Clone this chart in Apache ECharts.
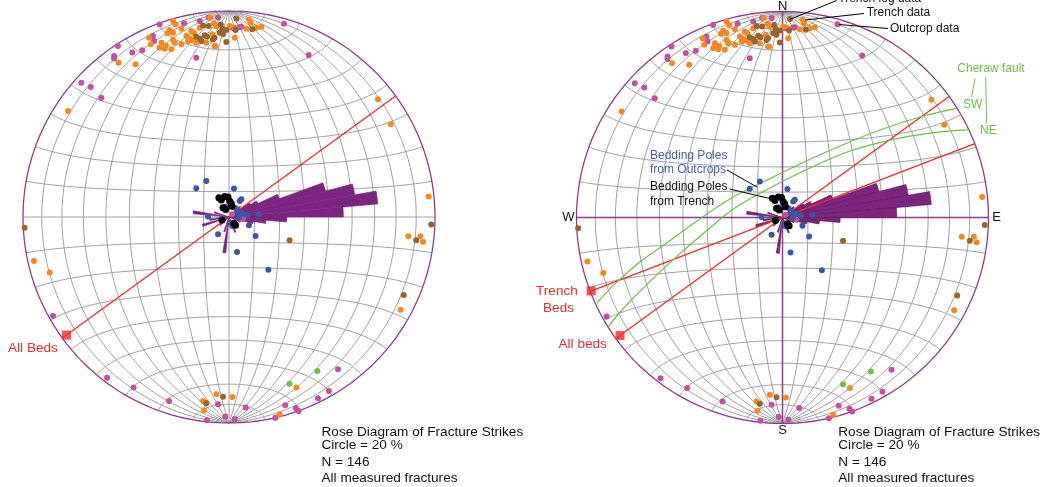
<!DOCTYPE html>
<html>
<head>
<meta charset="utf-8">
<script src="https://cdn.jsdelivr.net/npm/echarts@6/dist/echarts.min.js"></script>
<style>
  html, body { margin: 0; padding: 0; background: #fff; }
  #chart { width: 1046px; height: 487px; }
</style>
</head>
<body>
<div id="chart"></div>
<script>
// Lower-hemisphere equal-area (Schmidt) nets; positions in units of the net radius (100).

// Fracture poles
const outcropData = [
  [-14.2,95.1],[-9.9,96.8],[-5.3,96.8],[-21.8,94.0],[-33.7,93.5],[6.0,92.4],[1.6,91.9],[5.2,92.2],
  [-36.9,87.9],[-36.4,85.4],[-53.9,83.0],[-55.8,78.1],[-55.8,76.9],[-46.9,79.8],[-42.1,80.9],[-15.9,77.3],
  [26.7,93.8],[38.7,78.6],[-71.7,65.2],[-67.1,63.1],[-62.0,57.9],[-85.4,-48.1],[-59.2,-78.0],[-46.3,-82.8],
  [-29.1,-89.3],[-5.3,-90.9],[8.1,-92.5],[-1.8,-96.9],[-10.7,-98.7],[2.8,-98.2],[52.9,-73.9],[48.5,-84.5],
  [43.2,-88.0],[27.3,-91.4],[32.5,-92.9],[33.8,-94.2],[22.5,-97.4],[1.5,1.3],[6.8,-1.1]
];
const trenchData = [
  [-27.2,95.1],[-25.9,93.5],[-28.8,90.8],[-27.2,89.5],[-23.1,91.4],[-29.9,89.2],[-18.3,90.3],[-17.0,89.2],
  [-20.7,87.9],[-19.1,86.7],[-17.5,85.8],[-38.8,87.0],[-38.0,83.8],[-32.8,84.6],[-30.7,83.3],[-27.2,86.2],
  [-26.4,84.6],[-23.1,83.8],[-19.9,85.4],[-15.9,84.6],[-11.0,84.6],[-7.0,83.0],[-33.7,82.2],[-31.2,81.7],
  [-28.0,81.4],[-9.1,96.8],[-7.3,94.0],[-8.1,88.7],[0.3,92.7],[2.8,91.9],[2.8,87.0],[8.4,91.4],
  [9.7,95.9],[10.5,94.3],[13.3,91.9],[15.7,92.4],[-14.2,91.9],[-6.1,92.7],[-6.5,83.0],
  [-53.6,74.9],[-45.3,74.1],[-78.1,51.5],[-94.7,-21.4],[-87.0,-27.0],[72.3,57.1],[78.5,45.0],[96.9,10.0],
  [87.0,-9.4],[92.9,-9.4],[94.2,-12.0],[83.3,-45.0],[-6.1,-86.1],[1.6,-87.4],[-12.6,-89.3],[-12.1,-93.8],
  [32.7,-82.8],[24.6,-95.8]
];
const trenchLogData = [
  [3.6,96.3],[-12.6,93.0],[-9.9,92.7],[-4.0,93.5],[-3.2,91.4],[-1.3,90.8],[3.2,90.8],[11.3,91.1],
  [-15.9,87.5],[-14.2,86.6],[-11.8,88.2],[-10.7,87.5],[-7.0,87.0],[-4.5,89.5],[-2.9,88.7],[-13.4,85.4],
  [-7.8,86.2],[-1.3,84.9],[29.4,-11.3],[98.2,-3.6],[90.9,-11.3],[84.8,-37.9],[-99.2,-5.2],[-2.9,-87.2],
  [-11.0,-90.4]
];
const otherFractures = [[42.9,-74.8],[29.4,-80.9]];

// Bedding poles
const outcropBedding = [
  [-11.0,17.5],[-15.9,13.9],[2.4,13.8],[5.2,7.8],[6.0,8.6],[-1.8,5.0],[4.0,2.9],[8.9,0.8],[14.6,1.3],
  [-10.2,0.2],[9.7,-4.0],[12.9,-9.2],[-5.3,-8.4],[3.9,-17.0],[0.3,-2.8],[1.6,-4.4],[4.9,-0.3],
  [19.1,-25.6],[3.0,4.5],[6.5,1.8]
];
const trenchBedding = [
  [-4.9,9.4],[-3.7,8.3],[-2.1,9.9],[-0.5,9.7],[0.3,7.8],[1.1,6.6],[1.3,5.2],[-2.9,4.5],[-1.6,3.7],
  [-3.4,-1.5],[3.2,-4.0],[2.4,-3.0]
];

// Rose diagram of fracture strikes: 5 degree bins, percent of fractures (primitive = 20 %)
const roseBinStart = [45, 55, 60, 65, 70, 75, 80, 85, 90, 95, 100, 110, 155, 185, 195, 225, 250, 260, 275, 285];
const rosePercent  = [1.5, 2.4, 3.1, 5.2, 9.7, 12.4, 14.5, 11.1, 5.6, 3.6, 2.4, 1.2, 1.6, 3.5, 1.5, 1.2, 2.7, 1.9, 3.5, 1.5];
const roseBinWidth = 5;
const roseCirclePercent = 20;

// Mean bedding: strike (deg) and position of the marker along the SW end
const bedNames  = ['All beds', 'Trench Beds'];
const bedStrike = [54, 69];
const bedMarkR  = [97.5, 99.5];

// Cheraw fault traces
const cherawSW = [[-90.2,-41.7],[-82.8,-33.7],[-71.6,-23.5],[-57.0,-12.9],[-41.5,-1.7],[-25.5,9.0],
  [-8.5,17.7],[8.5,26.0],[27.9,34.7],[47.3,42.5],[66.7,48.8],[84.6,53.0]];
const cherawNE = [[-84.6,-53.0],[-77.9,-44.9],[-66.7,-33.3],[-52.2,-19.7],[-37.6,-7.0],[-23.1,4.6],
  [-6.1,14.3],[13.3,24.0],[32.8,32.3],[52.2,37.6],[71.6,41.0],[90.7,42.5]];

const R = 100;
const rad = d => d * Math.PI / 180;
// equal-area projection of a unit vector (east, north, down)
function proj(e, n, z) { const s = Math.sqrt(1 + z); return [R * e / s, R * n / s]; }

function netLines() {
  const out = [];
  for (let d = 10; d <= 80; d += 10) {
    for (const side of [-1, 1]) {
      const pts = [];
      for (let t = 0; t <= 180; t += 3) {
        const st = Math.sin(rad(t));
        pts.push(proj(side * st * Math.cos(rad(d)), Math.cos(rad(t)), st * Math.sin(rad(d))));
      }
      out.push(pts);
    }
  }
  for (let lat = -80; lat <= 80; lat += 10) {
    if (lat === 0) continue;
    const pts = [];
    const c = Math.cos(rad(lat)), s = Math.sin(rad(lat));
    for (let t = 0; t <= 180; t += 3) pts.push(proj(c * Math.cos(rad(t)), s, c * Math.sin(rad(t))));
    out.push(pts);
  }
  return out;
}
function circlePts() {
  const pts = [];
  for (let a = 0; a <= 360; a += 2) pts.push([R * Math.sin(rad(a)), R * Math.cos(rad(a))]);
  return pts;
}

const GRID_COLOR = '#a2a2a2';
const PURPLE = '#8d3b90';
const ROSE = '#7b2480';
const RED = '#ee2a2e';
const GREEN = '#6cc04a';
const FONT = '"Liberation Sans", Arial, Helvetica, sans-serif';

const roseData = roseBinStart.map((a, i) => [a, a + roseBinWidth, rosePercent[i]]);

function chartSeries(gi, opts) {
  const ax = { xAxisIndex: gi, yAxisIndex: gi };
  const s = [];
  s.push(Object.assign({
    type: 'lines', coordinateSystem: 'cartesian2d', polyline: true, silent: true, z: 1,
    lineStyle: { color: GRID_COLOR, width: 1, opacity: 1 },
    data: netLines().map(c => ({ coords: c }))
  }, ax));
  s.push(Object.assign({
    type: 'lines', coordinateSystem: 'cartesian2d', polyline: true, silent: true, z: 2,
    lineStyle: { color: opts.axisColor, width: opts.axisWidth, opacity: 1 },
    data: [{ coords: [[0, -R], [0, R]] }, { coords: [[-R, 0], [R, 0]] }]
  }, ax));
  s.push(Object.assign({
    type: 'lines', coordinateSystem: 'cartesian2d', polyline: true, silent: true, z: 2,
    lineStyle: { color: PURPLE, width: 1.3, opacity: 1 },
    data: [{ coords: circlePts() }]
  }, ax));
  s.push(Object.assign({
    type: 'custom', z: 3, silent: true, clip: false,
    data: roseData,
    encode: { x: [], y: [] },
    renderItem: function (params, api) {
      const a0 = api.value(0), a1 = api.value(1);
      const r = api.value(2) / roseCirclePercent * R;
      const pts = [api.coord([0, 0])];
      for (let k = 0; k <= 6; k++) {
        const a = rad(a0 + (a1 - a0) * k / 6);
        pts.push(api.coord([r * Math.sin(a), r * Math.cos(a)]));
      }
      return { type: 'polygon', shape: { points: pts },
        style: { fill: ROSE, stroke: opts.roseStroke, lineWidth: 0.6 } };
    }
  }, ax));
  opts.beds.forEach(bi => {
    const a = rad(bedStrike[bi]);
    s.push(Object.assign({
      type: 'line', z: 4, silent: true, symbol: 'none',
      lineStyle: { color: RED, width: 1.3 },
      data: [[-R * Math.sin(a), -R * Math.cos(a)], [R * Math.sin(a), R * Math.cos(a)]]
    }, ax));
    s.push(Object.assign({
      type: 'scatter', z: 6, silent: true, symbol: 'rect', symbolSize: 9,
      itemStyle: { color: RED },
      data: [[-bedMarkR[bi] * Math.sin(a), -bedMarkR[bi] * Math.cos(a)]]
    }, ax));
  });
  if (opts.fault) {
    [cherawSW, cherawNE].forEach(c => {
      s.push(Object.assign({
        type: 'line', z: 4, silent: true, symbol: 'none', smooth: 0.4,
        lineStyle: { color: GREEN, width: 1.2 }, data: c
      }, ax));
    });
  }
  const pts = [
    [outcropData, '#c2519f', 6], [trenchData, '#f5891f', 6], [trenchLogData, '#9a6429', 6],
    [otherFractures, '#6cc04a', 6], [outcropBedding, '#3c55a5', 6], [trenchBedding, '#000000', 7]
  ];
  pts.forEach(p => {
    s.push(Object.assign({
      type: 'scatter', z: 5, silent: true, symbolSize: p[2],
      itemStyle: { color: p[1], opacity: 1 }, data: p[0]
    }, ax));
  });
  return s;
}

const axisBase = { type: 'value', min: -R, max: R, show: false };
const txt = (text, x, y, fill, size, align) => ({
  type: 'text', x: x, y: y, z: 100, silent: true,
  style: { text: text, fill: fill, font: size + 'px ' + FONT, align: align || 'left', verticalAlign: 'middle' }
});
const seg = (x1, y1, x2, y2, color) => ({
  type: 'line', z: 100, silent: true,
  shape: { x1: x1, y1: y1, x2: x2, y2: y2 }, style: { stroke: color || '#000', lineWidth: 1 }
});

const option = {
  animation: false,
  backgroundColor: '#fff',
  grid: [
    { left: 23, top: 11, width: 412, height: 412 },
    { left: 576.5, top: 11.5, width: 412, height: 412 }
  ],
  xAxis: [Object.assign({ gridIndex: 0 }, axisBase), Object.assign({ gridIndex: 1 }, axisBase)],
  yAxis: [Object.assign({ gridIndex: 0 }, axisBase), Object.assign({ gridIndex: 1 }, axisBase)],
  series: [].concat(
    chartSeries(0, { axisColor: GRID_COLOR, axisWidth: 1, roseStroke: ROSE, beds: [0], fault: false }),
    chartSeries(1, { axisColor: PURPLE, axisWidth: 1.5, roseStroke: '#5c1a4f', beds: [0, 1], fault: true })
  ),
  graphic: [
    txt('All Beds', 8, 348, RED, 13.6),
    txt('Rose Diagram of Fracture Strikes', 321.5, 432.5, '#111', 13.6),
    txt('Circle = 20 %', 321.5, 445.5, '#111', 13.6),
    txt('N = 146', 321.5, 461.8, '#111', 13.6),
    txt('All measured fractures', 321.5, 478.3, '#111', 13.6),

    txt('N', 782.7, 6, '#111', 13, 'center'),
    txt('S', 782.7, 430.5, '#111', 13, 'center'),
    txt('W', 568.5, 217.5, '#111', 13, 'center'),
    txt('E', 996.5, 217.5, '#111', 13, 'center'),
    txt('Trench', 536, 291.5, RED, 13.6),
    txt('Beds', 543, 308.3, RED, 13.6),
    txt('All beds', 558.5, 344.3, RED, 13.6),
    txt('Bedding Poles', 650, 155.7, '#4a62b4', 12),
    txt('from Outcrops', 650, 170, '#4a62b4', 12),
    txt('Bedding Poles', 650, 186.7, '#111', 12),
    txt('from Trench', 650, 201.7, '#111', 12),
    seg(727, 170, 757, 187),
    seg(729.5, 189, 772, 199),
    txt('Trench log data', 838.3, -1.5, '#111', 12),
    txt('Trench data', 866.7, 12.7, '#111', 12),
    txt('Outcrop data', 890, 28.8, '#111', 12),
    seg(790, 19.3, 836.7, 0.5),
    seg(805, 20, 864, 13.5),
    seg(839, 24.5, 888, 28.5),
    txt('Cheraw fault', 957.3, 68.3, GREEN, 12),
    txt('SW', 963, 105, GREEN, 12),
    txt('NE', 980, 130.5, GREEN, 12),
    seg(975, 78.3, 971.7, 96.7, GREEN),
    seg(985.7, 77.3, 986.7, 123.5, GREEN),
    txt('Rose Diagram of Fracture Strikes', 838.3, 432.3, '#111', 13.6),
    txt('Circle = 20 %', 838.3, 445.5, '#111', 13.6),
    txt('N = 146', 838.3, 461.8, '#111', 13.6),
    txt('All measured fractures', 838.3, 478.3, '#111', 13.6)
  ]
};

const chart = echarts.init(document.getElementById('chart'), null, { renderer: 'canvas' });
chart.setOption(option);
</script>
</body>
</html>
